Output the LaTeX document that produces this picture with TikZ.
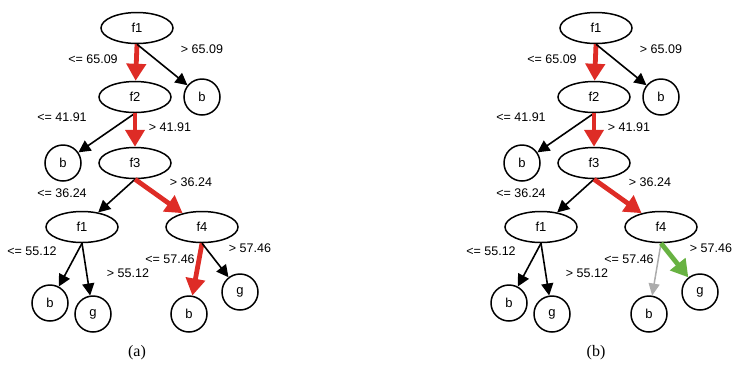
\documentclass[tikz,border=0pt]{standalone}
\usepackage{fontspec}
\setsansfont{Liberation Sans}
\setmainfont{Liberation Serif}
\usetikzlibrary{shapes.geometric,arrows.meta}
\definecolor{pathred}{RGB}{222,44,38}
\definecolor{pathgreen}{RGB}{104,178,66}
\definecolor{pathgray}{RGB}{172,172,172}
\tikzset{
  inode/.style={ellipse, draw, line width=1.5pt, minimum width=72pt, minimum height=31pt, inner sep=0pt, font=\sffamily\fontsize{13}{13}\selectfont},
  leaf/.style={circle, draw, line width=1.5pt, minimum size=36pt, inner sep=0pt, font=\sffamily\fontsize{13}{13}\selectfont},
  lbl/.style={font=\sffamily\fontsize{12.5}{12.5}\selectfont, inner sep=0pt},
  captext/.style={font=\fontsize{16}{16}\selectfont, inner sep=0pt},
  blk/.style={line width=1.6pt, -{Triangle[length=12pt,width=12pt]}},
  hot/.style={line width=4.8pt, draw=pathred, -{Triangle[length=17pt,width=19pt]}},
  grn/.style={line width=4.8pt, draw=pathgreen, -{Triangle[length=17pt,width=19pt]}},
  gry/.style={line width=1.5pt, draw=pathgray, -{Triangle[length=12pt,width=11pt]}},
}
\begin{document}
\begin{tikzpicture}[x=1pt,y=-1pt]
\useasboundingbox (0,0) rectangle (733,365);
% ---------- tree (a) ----------
\node[inode] (a1) at (137,28) {f1};
\node[inode] (a2) at (135,97) {f2};
\node[leaf]  (ab1) at (202,97) {b};
\node[leaf]  (ab2) at (63,163) {b};
\node[inode] (a3) at (135,163) {f3};
\node[inode] (a4) at (82,227) {f1};
\node[inode] (a5) at (202,227) {f4};
\node[leaf]  (ab3) at (50,303) {b};
\node[leaf]  (ag1) at (93,314) {g};
\node[leaf]  (ab4) at (189,314) {b};
\node[leaf]  (ag2) at (240,292) {g};
\draw[hot] (a1.south) -- (a2);
\draw[blk] (a1.south) -- (ab1);
\draw[blk] (a2.south) -- (ab2);
\draw[hot] (a2.south) -- (a3);
\draw[blk] (a3.south) -- (a4);
\draw[hot] (a3.south) -- (a5);
\draw[blk] (a4.south) -- (ab3);
\draw[blk] (a4.south) -- (ag1);
\draw[hot] (a5.south) -- (ab4);
\draw[blk] (a5.south) -- (ag2);
\node[lbl] (al1) at (93,59) {<= 65.09};
\node[lbl] (al2) at (202,49) {> 65.09};
\node[lbl] (al3) at (62,117) {<= 41.91};
\node[lbl] (al4) at (170,127) {> 41.91};
\node[lbl] (al5) at (62,193) {<= 36.24};
\node[lbl] (al6) at (191,182) {> 36.24};
\node[lbl] (al7) at (32,251) {<= 55.12};
\node[lbl] (al8) at (128,273) {> 55.12};
\node[lbl] (al9) at (170,259) {<= 57.46};
\node[lbl] (al10) at (250,248) {> 57.46};
\node[captext] (capa) at (137,353) {(a)};
% ---------- tree (b) ----------
\node[inode] (b1) at (596,28) {f1};
\node[inode] (b2) at (594,97) {f2};
\node[leaf]  (bb1) at (661,97) {b};
\node[leaf]  (bb2) at (522,163) {b};
\node[inode] (b3) at (594,163) {f3};
\node[inode] (b4) at (541,227) {f1};
\node[inode] (b5) at (661,227) {f4};
\node[leaf]  (bb3) at (509,303) {b};
\node[leaf]  (bg1) at (552,314) {g};
\node[leaf]  (bb4) at (649,314) {b};
\node[leaf]  (bg2) at (700,292) {g};
\draw[hot] (b1.south) -- (b2);
\draw[blk] (b1.south) -- (bb1);
\draw[blk] (b2.south) -- (bb2);
\draw[hot] (b2.south) -- (b3);
\draw[blk] (b3.south) -- (b4);
\draw[hot] (b3.south) -- (b5);
\draw[blk] (b4.south) -- (bb3);
\draw[blk] (b4.south) -- (bg1);
\draw[gry] (b5.south) -- (bb4);
\draw[grn] (b5.south) -- (bg2);
\node[lbl] (bl1) at (552,59) {<= 65.09};
\node[lbl] (bl2) at (661,49) {> 65.09};
\node[lbl] (bl3) at (521,117) {<= 41.91};
\node[lbl] (bl4) at (629,127) {> 41.91};
\node[lbl] (bl5) at (521,193) {<= 36.24};
\node[lbl] (bl6) at (650,182) {> 36.24};
\node[lbl] (bl7) at (491,251) {<= 55.12};
\node[lbl] (bl8) at (587,273) {> 55.12};
\node[lbl] (bl9) at (629,259) {<= 57.46};
\node[lbl] (bl10) at (711,248) {> 57.46};
\node[captext] (capb) at (596,353) {(b)};
\end{tikzpicture}
\end{document}
